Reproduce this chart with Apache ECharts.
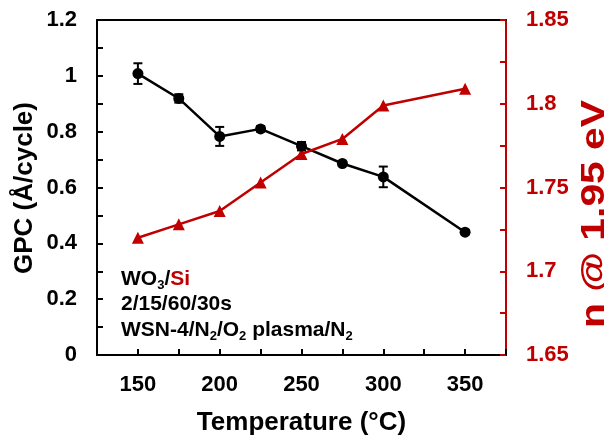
<!DOCTYPE html>
<html>
<head>
<meta charset="utf-8">
<script src="https://cdn.jsdelivr.net/npm/echarts@6/dist/echarts.min.js"></script>
<style>html,body{margin:0;padding:0;background:#fff;}#c{width:604px;height:441px;}</style>
</head>
<body>
<div id="c"></div>
<script>
var temperatures = [150, 175, 200, 225, 250, 275, 300, 350];
var gpc = [1.008, 0.919, 0.783, 0.810, 0.748, 0.686, 0.638, 0.440];
var gpcErr = [0.037, 0.015, 0.034, 0.010, 0.015, 0.005, 0.037, 0.008];
var refIndex = [1.720, 1.728, 1.736, 1.753, 1.770, 1.779, 1.799, 1.809];
var xTicks = [150, 200, 250, 300, 350];
var leftTicks = [0, 0.2, 0.4, 0.6, 0.8, 1, 1.2];
var rightTicks = [1.65, 1.7, 1.75, 1.8, 1.85];

var RED = '#C00000';
var FONT = '"Liberation Sans", Arial, sans-serif';

function isTick(list, v) {
  for (var i = 0; i < list.length; i++) if (Math.abs(list[i] - v) < 1e-6) return true;
  return false;
}

var gpcPts = temperatures.map(function (t, i) { return [t, gpc[i]]; });
var nPts = temperatures.map(function (t, i) { return [t, refIndex[i]]; });
var errPts = temperatures.map(function (t, i) { return [t, gpc[i] - gpcErr[i], gpc[i] + gpcErr[i]]; });

var chart = echarts.init(document.getElementById('c'), null, {renderer: 'canvas'});
chart.setOption({
  animation: false,
  backgroundColor: '#fff',
  grid: {left: 97, right: 98, top: 20, bottom: 78},
  xAxis: [{
    type: 'value', min: 125, max: 375, interval: 25,
    axisLine: {show: true, onZero: false, lineStyle: {color: '#000', width: 2}},
    axisTick: {show: true, inside: true, length: 6, lineStyle: {color: '#000', width: 2}},
    axisLabel: {
      margin: 19, color: '#000', fontSize: 22, fontWeight: 'bold', fontFamily: FONT,
      formatter: function (v) { return isTick(xTicks, v) ? String(v) : ''; }
    },
    splitLine: {show: false},
    name: 'Temperature (°C)', nameLocation: 'middle', nameGap: 55,
    nameTextStyle: {color: '#000', fontSize: 26, fontWeight: 'bold', fontFamily: FONT}
  }, {
    type: 'value', position: 'top', min: 125, max: 375,
    axisLine: {show: true, onZero: false, lineStyle: {color: '#000', width: 2}},
    axisTick: {show: false}, axisLabel: {show: false}, splitLine: {show: false}
  }],
  yAxis: [{
    type: 'value', position: 'left', min: 0, max: 1.2, interval: 0.1,
    axisLine: {show: true, onZero: false, lineStyle: {color: '#000', width: 2}},
    axisTick: {show: true, inside: true, length: 6, lineStyle: {color: '#000', width: 2}},
    axisLabel: {
      margin: 20, color: '#000', fontSize: 22, fontWeight: 'bold', fontFamily: FONT,
      formatter: function (v) { return isTick(leftTicks, v) ? String(Math.round(v * 10) / 10) : ''; }
    },
    splitLine: {show: false}
  }, {
    type: 'value', position: 'right', min: 1.65, max: 1.85, interval: 0.025,
    axisLine: {show: true, onZero: false, lineStyle: {color: RED, width: 2}},
    axisTick: {show: true, inside: true, length: 6, lineStyle: {color: RED, width: 2}},
    axisLabel: {
      margin: 20, color: RED, fontSize: 22, fontWeight: 'bold', fontFamily: FONT,
      formatter: function (v) { return isTick(rightTicks, v) ? String(Math.round(v * 100) / 100) : ''; }
    },
    splitLine: {show: false}
  }],
  graphic: [
    {type: 'text', x: 25, y: 188, rotation: Math.PI / 2,
      style: {text: 'GPC (Å/cycle)', fill: '#000', font: 'bold 26px ' + FONT, align: 'center', verticalAlign: 'middle'}},
    {type: 'text', x: 595, y: 214, rotation: Math.PI / 2, scaleX: 1.2,
      style: {text: 'n @ 1.95 eV', fill: RED, font: 'bold 34px ' + FONT, align: 'center', verticalAlign: 'middle'}},
    {type: 'text', x: 121, y: 279,
      style: {text: '{m|WO}{s|3}{m|/}{r|Si}', verticalAlign: 'middle',
        rich: {m: {fill: '#000', font: 'bold 21px ' + FONT, lineHeight: 26},
               r: {fill: RED, font: 'bold 21px ' + FONT, lineHeight: 26},
               s: {fill: '#000', font: 'bold 13px ' + FONT, lineHeight: 14, verticalAlign: 'bottom'}}}},
    {type: 'text', x: 121, y: 304,
      style: {text: '2/15/60/30s', fill: '#000', font: 'bold 21px ' + FONT, verticalAlign: 'middle'}},
    {type: 'text', x: 121, y: 330,
      style: {text: '{m|WSN-4/N}{s|2}{m|/O}{s|2}{m| plasma/N}{s|2}', verticalAlign: 'middle',
        rich: {m: {fill: '#000', font: 'bold 21px ' + FONT, lineHeight: 26},
               s: {fill: '#000', font: 'bold 13px ' + FONT, lineHeight: 14, verticalAlign: 'bottom'}}}}
  ],
  series: [{
    type: 'line', name: 'GPC', xAxisIndex: 0, yAxisIndex: 0, data: gpcPts,
    symbol: 'circle', symbolSize: 11, z: 3,
    lineStyle: {color: '#000', width: 2.5}, itemStyle: {color: '#000'}
  }, {
    type: 'custom', name: 'GPC error', xAxisIndex: 0, yAxisIndex: 0, data: errPts, z: 4,
    renderItem: function (params, api) {
      var x = api.coord([api.value(0), api.value(1)]);
      var hi = api.coord([api.value(0), api.value(2)]);
      var half = 4.5;
      return {type: 'group', children: [
        {type: 'line', shape: {x1: x[0], y1: x[1], x2: hi[0], y2: hi[1]}, style: {stroke: '#000', lineWidth: 2}},
        {type: 'line', shape: {x1: x[0] - half, y1: x[1], x2: x[0] + half, y2: x[1]}, style: {stroke: '#000', lineWidth: 2}},
        {type: 'line', shape: {x1: hi[0] - half, y1: hi[1], x2: hi[0] + half, y2: hi[1]}, style: {stroke: '#000', lineWidth: 2}}
      ]};
    },
    encode: {x: 0, y: [1, 2]}
  }, {
    type: 'line', name: 'n', xAxisIndex: 0, yAxisIndex: 1, data: nPts,
    symbol: 'triangle', symbolSize: 12, z: 3,
    lineStyle: {color: RED, width: 2.5}, itemStyle: {color: RED}
  }]
});
</script>
</body>
</html>
